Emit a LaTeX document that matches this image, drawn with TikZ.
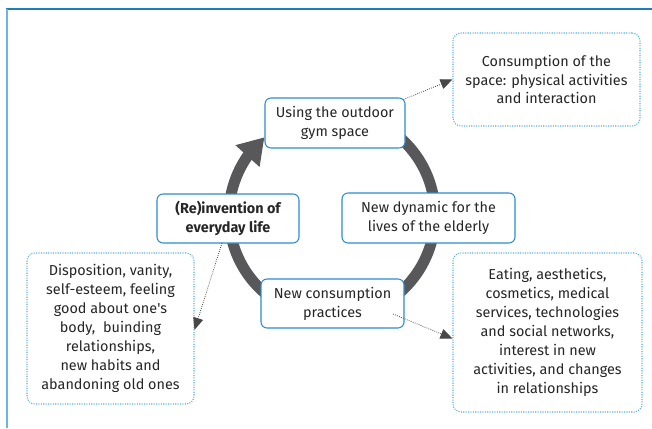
\documentclass[tikz,border=0pt]{standalone}
\usepackage{fontspec}
\setmainfont{Fira Sans}
\usetikzlibrary{arrows.meta,bending}
\definecolor{boxblue}{HTML}{2B8CCC}
\definecolor{dotblue}{HTML}{5AAEDC}
\definecolor{ringgray}{HTML}{58585A}
\definecolor{txtgray}{HTML}{262626}
\definecolor{topline}{HTML}{1F7FB3}
\definecolor{leftline}{HTML}{6BB5DE}
\tikzset{
  solidbox/.style={draw=boxblue, line width=0.8pt, rounded corners=4.5pt, fill=white,
    align=center, inner sep=2pt, text=txtgray,
    font=\fontsize{10.8pt}{14.2pt}\selectfont},
  dotbox/.style={draw=dotblue, line width=0.8pt, densely dotted, rounded corners=6pt, fill=white,
    align=center, inner sep=2pt, text=txtgray,
    font=\fontsize{10.8pt}{14.2pt}\selectfont},
  ring/.style={draw=ringgray, line width=8.25pt, -{Triangle[length=19pt,width=23pt]}},
  dotarrow/.style={draw=txtgray!85, line width=0.6pt, densely dotted,
    -{Triangle[length=9pt,width=7.5pt]}, shorten >=0pt},
}
\begin{document}
\begin{tikzpicture}[x=0.75pt,y=-0.75pt]
\useasboundingbox (0,0) rectangle (652,428);
% frame
\draw[topline, line width=1.2pt] (6,9) -- (652,9);
\draw[leftline, line width=1.5pt] (7,9) -- (7,428);
% ring
\coordinate (ctr) at (332,215);
\draw[ring] (ctr) ++(260:103) arc[start angle=260, end angle=589, radius=103];
% boxes
\node[solidbox, minimum width=105pt, minimum height=37.5pt] (gym) at (335,123) {Using the outdoor\\gym space};
\node[solidbox, minimum width=106.5pt, minimum height=36.75pt, font=\fontsize{10.8pt}{14.2pt}\selectfont\bfseries] (reinv) at (228,218.5) {(Re)invention of\\everyday life};
\node[solidbox, minimum width=129.75pt, minimum height=37.5pt] (dyn) at (428.5,218) {New dynamic for the\\lives of the elderly};
\node[solidbox, minimum width=107.25pt, minimum height=36.75pt] (cons) at (332.5,303.5) {New consumption\\practices};
\node[dotbox, minimum width=140.25pt, minimum height=69.75pt] (space) at (546.5,79.5) {Consumption of the\\space: physical activities\\and interaction};
\node[dotbox, minimum width=141.75pt, minimum height=119.25pt] (eat) at (547.5,332.5) {Eating, aesthetics,\\cosmetics, medical\\services, technologies\\and social networks,\\interest in new\\activities, and changes\\in relationships};
\node[dotbox, minimum width=125.25pt, minimum height=113.25pt] (disp) at (110.5,328.5) {Disposition, vanity,\\self-esteem, feeling\\good about one\textquotesingle s\\body,\ \ buinding\\relationships,\\new habits and\\abandoning old ones};
% connectors
\coordinate (gymcorner) at ([xshift=-1.5pt,yshift=-1.5pt]gym.north east);
\coordinate (consend) at (393,314);
\coordinate (reinvend) at (222,243);
\draw[dotarrow] (gymcorner) -- ([yshift=0pt]space.west);
\draw[dotarrow] (consend) -- ([yshift=-4.5pt]eat.west);
\draw[dotarrow] (reinvend) -- ([yshift=-1pt]disp.east);
\end{tikzpicture}
\end{document}
